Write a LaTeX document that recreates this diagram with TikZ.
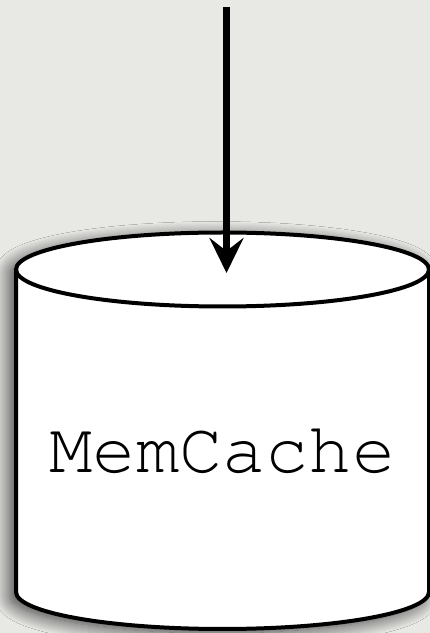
\documentclass[tikz,border=0pt]{standalone}
\usepackage[T1,TU]{fontenc}
\usepackage{pdfrender}
\usetikzlibrary{arrows.meta,shadows.blur}

\definecolor{canvas}{HTML}{E8E9E5}
\newcommand{\codefont}{\fontencoding{T1}\fontfamily{pcr}\selectfont}

\tikzset{
  outline/.style={draw=black, line width=4pt},
  storebody/.style={outline, fill=white,
    blur shadow={shadow xshift=-6pt, shadow yshift=-4pt,
                 shadow blur radius=15pt, shadow blur steps=15,
                 shadow opacity=75}},
  feed/.style={draw=black, line width=7pt,
    -{Stealth[length=35pt, width=34pt, inset=13pt]}},
  storelabel/.style={font=\codefont\fontsize{72}{72}\selectfont,
    inner sep=0pt, anchor=base}
}

\begin{document}
\begin{tikzpicture}[x=1pt, y=1pt]
  % canvas
  \fill[canvas] (0,0) rectangle (430,633);
  \useasboundingbox (0,0) rectangle (430,633);

  % cache cylinder: body with shadow, then the front rim of the lid
  \path[storebody] (16,363.5) -- (16,41)
    arc[start angle=180, end angle=360, x radius=206.5, y radius=37]
    -- (429,363.5)
    arc[start angle=0, end angle=180, x radius=206.5, y radius=37]
    -- cycle;
  \draw[outline] (16,363.5)
    arc[start angle=180, end angle=360, x radius=206.5, y radius=37];

  % label, slightly emboldened by stroking the glyph outlines
  \node[storelabel] (cache) at (222.5,160)
    {\textpdfrender{TextRenderingMode=FillStroke, LineWidth=2.2pt}{MemCache}};

  % incoming request
  \coordinate (src) at (226.5,626);
  \coordinate (lid) at (226.5,360);
  \draw[feed] (src) -- (lid);
\end{tikzpicture}
\end{document}
